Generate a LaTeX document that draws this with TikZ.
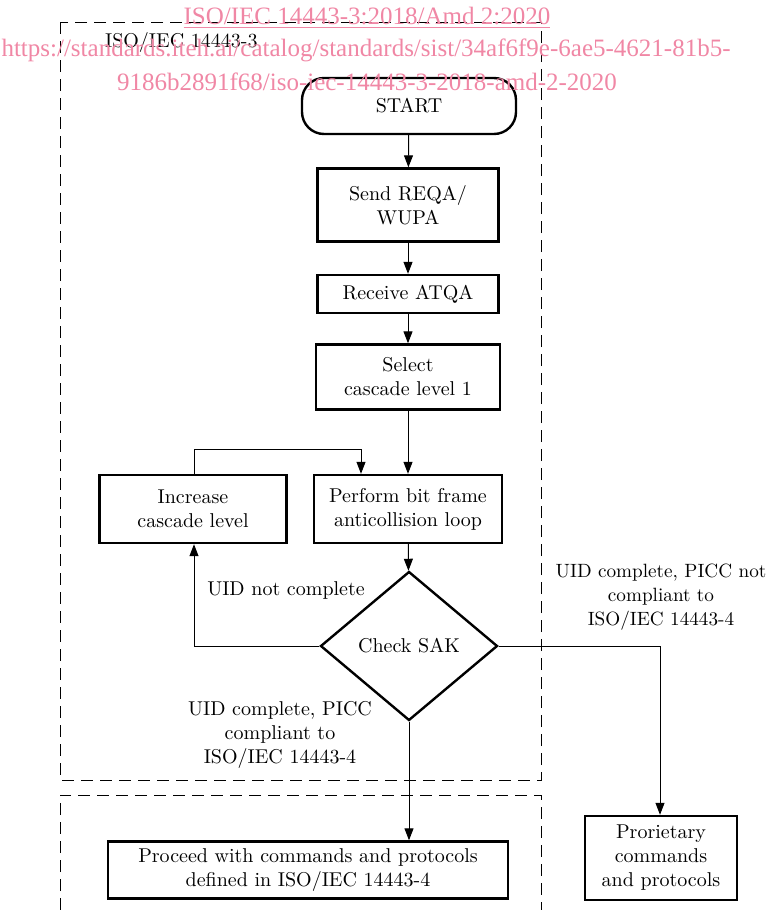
\documentclass[tikz,border=0pt]{standalone}
\usepackage{fontspec}
\newfontfamily\wmfont{Liberation Serif}
\usetikzlibrary{shapes.geometric,arrows.meta}

\definecolor{wmpink}{RGB}{240,135,165}

\tikzset{
	stepbox/.style={draw,line width=1.2pt,align=center,inner sep=0pt},
	flow/.style={line width=0.5pt,-{Triangle[length=6pt,width=4.5pt]}},
	link/.style={line width=0.5pt},
	frame/.style={line width=0.5pt,dash pattern=on 6pt off 3.5pt},
	wmark/.style={text=wmpink,font=\wmfont\fontsize{12.5}{14}\selectfont}
}

\begin{document}
\begin{tikzpicture}[x=0.5pt,y=-0.5pt]
	
	\useasboundingbox (0,0) rectangle (769,910);
	
	\draw[frame] (60,22) rectangle (541,780);
	\draw[frame] (60,910) -- (60,795) -- (541,795) -- (541,910);
	\node[anchor=west] (part3) at (98,42) {ISO/IEC 14443-3};
	
	\node[stepbox,rounded corners=11pt,minimum width=107pt,minimum height=28pt] (start) at (409,106) {START};
	\node[stepbox,minimum width=90.5pt,minimum height=36.5pt] (send) at (408,205) {Send REQA/\\WUPA};
	\node[stepbox,minimum width=90.5pt,minimum height=19pt] (atqa) at (408,294) {Receive ATQA};
	\node[stepbox,minimum width=92pt,minimum height=32.5pt] (select) at (408,377) {Select\\cascade level 1};
	\node[stepbox,minimum width=94pt,minimum height=34pt] (loop) at (408,509) {Perform bit frame\\anticollision loop};
	\node[stepbox,minimum width=93.5pt,minimum height=34pt] (incr) at (193,509) {Increase\\cascade level};
	\node[stepbox,diamond,aspect=1.2,minimum width=88.5pt,minimum height=74.5pt] (sak) at (409,646) {Check SAK};
	\node[stepbox,minimum width=200pt,minimum height=28.5pt] (iso4) at (308,870) {Proceed with commands and protocols\\defined in ISO/IEC 14443-4};
	\node[stepbox,minimum width=76pt,minimum height=42pt] (prop) at (661,858) {Prorietary\\commands\\and protocols};
	
	\coordinate (up) at (194,449);
	\coordinate (over) at (361,449);
	\coordinate (bend) at (660,646);
	
	\draw[flow] (start) -- (send);
	\draw[flow] (send) -- (atqa);
	\draw[flow] (atqa) -- (select);
	\draw[flow] (select) -- (loop);
	\draw[flow] (loop) -- (sak);
	\draw[flow] (incr.north -| up) -- (up) -- (over) -- (over |- loop.north);
	\draw[flow] (sak.west) -| (incr.south -| up);
	\draw[flow] (sak.south) -- (sak.south |- iso4.north);
	\draw[link] (sak.east) -- (bend);
	\draw[flow] (bend) -- (bend |- prop.north);
	
	\node (notdone) at (286,590) {UID not complete};
	\node[align=center] (done4) at (280,735) {UID complete, PICC\\compliant to\\ISO/IEC 14443-4};
	\node[align=center,font=\fontsize{9.6}{12}\selectfont] (donenot4) at (661,597) {UID complete, PICC not\\compliant to\\ISO/IEC 14443-4};
	
	\node[wmark] (wm1) at (367,18) {\underline{ISO/IEC 14443-3:2018/Amd 2:2020}};
	\node[wmark] (wm2) at (366,50) {https://standards.iteh.ai/catalog/standards/sist/34af6f9e-6ae5-4621-81b5-};
	\node[wmark] (wm3) at (367,82) {9186b2891f68/iso-iec-14443-3-2018-amd-2-2020};
	
\end{tikzpicture}
\end{document}
